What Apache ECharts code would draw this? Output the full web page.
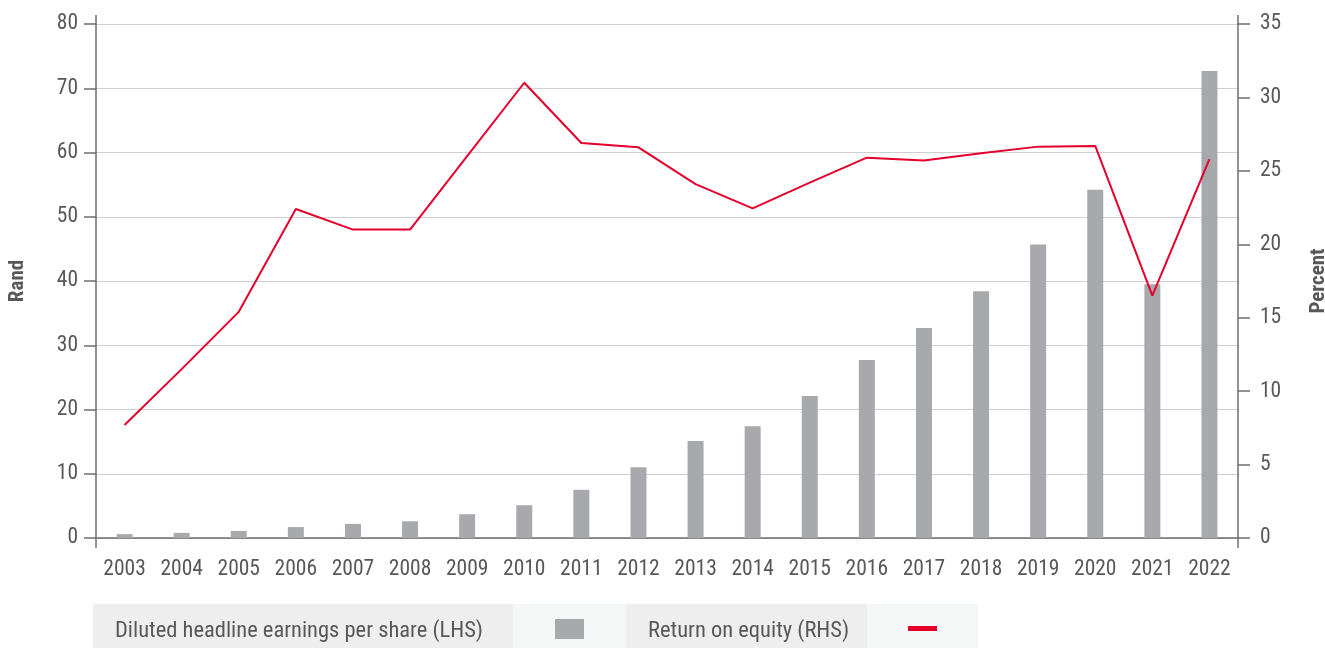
<!DOCTYPE html>
<html><head><meta charset="utf-8">
<script src="https://cdn.jsdelivr.net/npm/echarts@6/dist/echarts.min.js"></script>
<style>html,body{margin:0;padding:0;background:#fff}#c{width:1325px;height:648px}</style>
</head><body><div id="c"></div>
<script>
const years = ['2003','2004','2005','2006','2007','2008','2009','2010','2011','2012','2013','2014','2015','2016','2017','2018','2019','2020','2021','2022'];
const heps = [0.6,0.8,1.1,1.7,2.2,2.6,3.7,5.1,7.5,11.0,15.1,17.4,22.1,27.7,32.7,38.4,45.7,54.2,39.5,72.7];
const roe = [7.7,11.5,15.4,22.4,21.0,21.0,26.0,31.0,26.9,26.6,24.1,22.45,24.2,25.9,25.7,26.2,26.65,26.7,16.5,25.8];
const leftTicks = [0,80,10];
const rightTicks = [0,35,5];
const legendNames = ['Diluted headline earnings per share (LHS)','Return on equity (RHS)'];

const FONT = "'Roboto Condensed','Liberation Sans Narrow','DejaVu Sans Condensed',sans-serif";
const TXT = '#58585a';
const AX = '#6d6e70';
const chart = echarts.init(document.getElementById('c'));
const gl = 96, gr = 1238, gt = 24, gb = 538;
chart.setOption({
  animation:false,
  textStyle:{fontFamily:FONT},
  grid:{left:gl,right:1325-gr,top:gt,bottom:648-gb,containLabel:false,outerBoundsMode:'none'},
  xAxis:{type:'category',data:years,
    axisLine:{lineStyle:{color:AX,width:1.5}},
    axisTick:{alignWithLabel:true,length:10,lineStyle:{color:AX,width:1.5}},
    axisLabel:{color:TXT,fontSize:21.5,fontFamily:FONT,margin:21}},
  yAxis:[
    {type:'value',min:leftTicks[0],max:leftTicks[1],interval:leftTicks[2],name:'Rand',nameLocation:'middle',nameGap:68,
     nameTextStyle:{color:TXT,fontWeight:'bold',fontSize:21,fontFamily:FONT},
     axisLine:{show:true,lineStyle:{color:AX,width:1.5}},
     axisTick:{show:true,length:12,lineStyle:{color:AX,width:1.5}},
     axisLabel:{color:TXT,fontSize:21.5,fontFamily:FONT,margin:18},
     splitLine:{lineStyle:{color:'#cfcfcf',width:1.2}}},
    {type:'value',min:rightTicks[0],max:rightTicks[1],interval:rightTicks[2],name:'Percent',nameLocation:'middle',nameGap:70,
     nameRotate:90,
     nameTextStyle:{color:TXT,fontWeight:'bold',fontSize:21,fontFamily:FONT},
     axisLine:{show:true,lineStyle:{color:AX,width:1.5}},
     axisTick:{show:true,length:12,lineStyle:{color:AX,width:1.5}},
     axisLabel:{color:TXT,fontSize:21.5,fontFamily:FONT,margin:22},
     splitLine:{show:false}}
  ],
  series:[
    {name:legendNames[0],type:'bar',data:heps,barWidth:16,itemStyle:{color:'#a8a9ad'},yAxisIndex:0,z:2},
    {name:legendNames[1],type:'line',data:roe,yAxisIndex:1,symbol:'none',lineStyle:{color:'#e4002b',width:2},itemStyle:{color:'#e4002b'},z:3}
  ],
  graphic:[
    {type:'line',shape:{x1:gl,y1:15,x2:gl,y2:gt},style:{stroke:AX,lineWidth:1.5}},
    {type:'line',shape:{x1:gl,y1:gb,x2:gl,y2:548},style:{stroke:AX,lineWidth:1.5}},
    {type:'line',shape:{x1:gr,y1:15,x2:gr,y2:gt},style:{stroke:AX,lineWidth:1.5}},
    {type:'line',shape:{x1:gr,y1:gb,x2:gr,y2:548},style:{stroke:AX,lineWidth:1.5}},
    {type:'rect',shape:{x:93,y:604,width:420,height:44},style:{fill:'#eeeeee'}},
    {type:'rect',shape:{x:513,y:604,width:113,height:44},style:{fill:'#f5f6f6'}},
    {type:'rect',shape:{x:626,y:604,width:241,height:44},style:{fill:'#eeeeee'}},
    {type:'rect',shape:{x:867,y:604,width:111,height:44},style:{fill:'#f5f6f6'}},
    {type:'text',x:115,y:631,style:{text:legendNames[0],fill:TXT,font:'22.5px '+FONT,textVerticalAlign:'middle'}},
    {type:'rect',shape:{x:555,y:619,width:29,height:20},style:{fill:'#a8a9ad'}},
    {type:'text',x:648,y:631,style:{text:legendNames[1],fill:TXT,font:'22.5px '+FONT,textVerticalAlign:'middle'}},
    {type:'rect',shape:{x:908,y:626,width:29,height:5},style:{fill:'#e4002b'}}
  ]
});
</script></body></html>
